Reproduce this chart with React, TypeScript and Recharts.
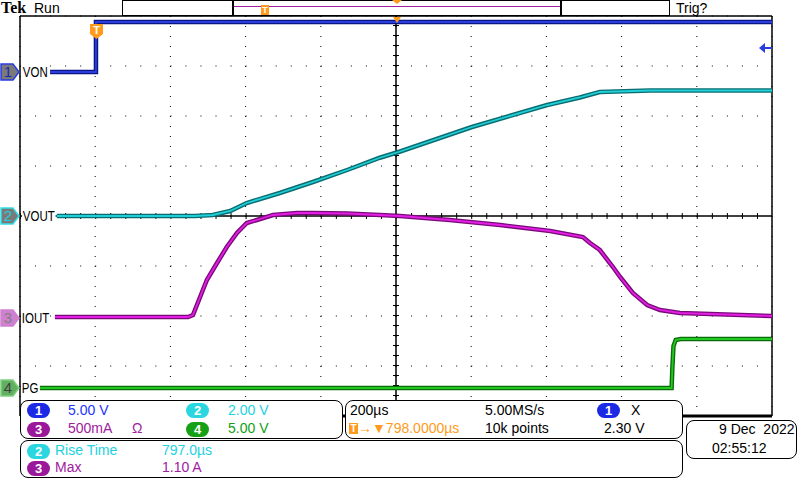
import React from "react"
import { LineChart, Line, XAxis, YAxis, CartesianGrid, ReferenceLine } from "recharts"

// time in µs relative to trigger, 200 µs/div, center at 798 µs
const divTimes = [-202, -2, 198, 398, 598, 798, 998, 1198, 1398, 1598, 1798]
const divLevels = [-4, -3, -2, -1, 0, 1, 2, 3, 4]

// CH1 VON, 5 V/div
const vonTime = [-122, 0, 0, 1798]
const vonVolts = [0, 0, 5, 5]

// CH2 VOUT, 2 V/div
const voutTime = [-104, 263, 311, 357, 401, 489, 577, 668, 755, 809, 1000, 1200, 1287, 1340, 1474, 1798]
const voutVolts = [0, 0, 0.04, 0.2, 0.52, 0.92, 1.36, 1.84, 2.33, 2.58, 3.56, 4.44, 4.74, 4.96, 5.02, 5.02]

// CH3 IOUT, 500 mA/div
const ioutTime = [-109, 245, 258, 277, 295, 322, 348, 375, 401, 428, 471, 535, 577, 668, 755, 809, 941, 1075, 1208, 1295, 1314, 1340, 1375, 1394, 1428, 1466, 1500, 1553, 1798]
const ioutAmps = [0.01, 0.01, 0.03, 0.21, 0.38, 0.55, 0.71, 0.85, 0.95, 0.98, 1.03, 1.05, 1.05, 1.045, 1.03, 1.02, 0.98, 0.93, 0.87, 0.81, 0.75, 0.68, 0.51, 0.41, 0.25, 0.13, 0.08, 0.05, 0.02]

// CH4 PG, 5 V/div
const pgTime = [-149, 1531, 1533, 1536, 1542, 1555, 1798]
const pgVolts = [0, 0, 2.0, 4.2, 4.8, 4.9, 4.9]

// volts/div and ground offset in divisions
const channels = [
  { name: "VON", time: vonTime, vals: vonVolts, scale: 5, offset: 2.88, light: "#2a3ee0", dark: "#0c1680" },
  { name: "VOUT", time: voutTime, vals: voutVolts, scale: 2, offset: 0, light: "#20d0d8", dark: "#0b6c70" },
  { name: "IOUT", time: ioutTime, vals: ioutAmps, scale: 0.5, offset: -2.04, light: "#e41ee4", dark: "#780a78" },
  { name: "PG", time: pgTime, vals: pgVolts, scale: 5, offset: -3.44, light: "#22c822", dark: "#0c6c0c" },
]

const series = channels.map((c) => ({
  ...c,
  data: c.time.map((t, i) => ({ t, y: c.vals[i] / c.scale + c.offset })),
}))

const FONT = '"Liberation Sans", Arial, sans-serif'

function Marker({ n, top, fill, stroke, color }: { n: string; top: number; fill: string; stroke: string; color: string }) {
  return (
    <svg style={{ position: "absolute", left: 0, top: top - 9 }} width={21} height={18}>
      <path d="M1 1 H13 L19 9 L13 17 H1 Z" fill={fill} stroke={stroke} strokeWidth={1.5} />
      <text x={8} y={14} fontSize={15} fontFamily={FONT} fill={color} textAnchor="middle">{n}</text>
    </svg>
  )
}

function Pill({ n, left, top, bg }: { n: string; left: number; top: number; bg: string }) {
  return (
    <div style={{ position: "absolute", left, top, width: 23, height: 15, borderRadius: 8, background: bg, color: "#fff", fontSize: 13, fontWeight: 700, lineHeight: "15px", textAlign: "center" }}>{n}</div>
  )
}

function Txt({ left, top, color = "#000", size = 13, children }: { left: number; top: number; color?: string; size?: number; children: React.ReactNode }) {
  return <div style={{ position: "absolute", left, top, color, fontSize: size, lineHeight: "15px", whiteSpace: "nowrap" }}>{children}</div>
}

function Label({ left, top, children }: { left: number; top: number; children: React.ReactNode }) {
  return (
    <div style={{ position: "absolute", left, top, fontSize: 14, lineHeight: "16px", background: "#fff", padding: "0 1px", transform: "scaleX(0.82)", transformOrigin: "left center", whiteSpace: "nowrap" }}>{children}</div>
  )
}

const boxStyle = (left: number, top: number, width: number, height: number): React.CSSProperties => ({
  position: "absolute", left, top, width, height, border: "1px solid #000", borderRadius: 8, background: "#fff", boxSizing: "border-box",
})

export default function App() {
  return (
    <div style={{ position: "fixed", left: 0, top: 0, width: 800, height: 480, background: "#fff", overflow: "hidden", fontFamily: FONT }}>
      <LineChart width={800} height={480} margin={{ top: 16, right: 28, bottom: 64, left: 20 }} style={{ position: "absolute", left: 0, top: 0 }}>
        <XAxis dataKey="t" type="number" domain={[-202, 1798]} ticks={divTimes} allowDataOverflow hide />
        <YAxis type="number" domain={[-4, 4]} ticks={divLevels} allowDataOverflow hide />
        <CartesianGrid vertical={false} stroke="#000" strokeDasharray="1 14.04" />
        <CartesianGrid horizontal={false} stroke="#000" strokeDasharray="1 9" />
        <ReferenceLine y={0} stroke="#000" strokeWidth={1.5} />
        <ReferenceLine y={0} stroke="#000" strokeWidth={6} strokeDasharray="1 14.04" />
        <ReferenceLine x={798} stroke="#000" strokeWidth={1.5} />
        <ReferenceLine x={798} stroke="#000" strokeWidth={6} strokeDasharray="1 9" />
        <ReferenceLine x={-202} stroke="#000" strokeWidth={1.5} />
        <ReferenceLine x={1798} stroke="#000" strokeWidth={1.5} />
        <ReferenceLine y={4} stroke="#000" strokeWidth={1.5} />
        <ReferenceLine y={-4} stroke="#000" strokeWidth={3} />
        {series.map((s) => (
          <Line key={s.name + "d"} data={s.data} dataKey="y" type="linear" stroke={s.dark} strokeWidth={4.5} dot={false} isAnimationActive={false} />
        ))}
        {series.map((s) => (
          <Line key={s.name + "l"} data={s.data} dataKey="y" type="linear" stroke={s.light} strokeWidth={1.8} dot={false} isAnimationActive={false} />
        ))}
      </LineChart>

      {/* top bar */}
      <div style={{ position: "absolute", left: 1, top: 0, fontFamily: '"Liberation Serif", serif', fontWeight: 700, fontSize: 16, lineHeight: "16px" }}>Tek</div>
      <Txt left={34} top={1} size={14}>Run</Txt>
      <div style={{ position: "absolute", left: 122, top: 0, width: 548, height: 16, border: "1px solid #000", boxSizing: "border-box" }} />
      <div style={{ position: "absolute", left: 232, top: 0, width: 330, height: 16, borderLeft: "2px solid #000", borderRight: "2px solid #000", boxSizing: "border-box" }} />
      <div style={{ position: "absolute", left: 234, top: 6, width: 326, height: 1, background: "#a020a0" }} />
      <div style={{ position: "absolute", left: 261, top: 5, width: 8, height: 10, background: "#ff9a1a", color: "#fff", fontSize: 9, fontWeight: 700, lineHeight: "10px", textAlign: "center" }}>T</div>
      <svg style={{ position: "absolute", left: 390, top: 0 }} width={14} height={24}>
        <path d="M2 0 H12 L7 4 Z" fill="#ff9a1a" />
        <path d="M3 17 H11 L7 23 Z" fill="#ff9a1a" />
      </svg>
      <Txt left={676} top={1} size={14}>Trig?</Txt>

      {/* trigger marker and level arrow */}
      <svg style={{ position: "absolute", left: 89, top: 23 }} width={16} height={17}>
        <path d="M1 1 H14 V11 L7.5 16 L1 11 Z" fill="#ff9a1a" />
        <text x={7.5} y={11} fontSize={11} fontWeight={700} fill="#fff" textAnchor="middle" fontFamily={FONT}>T</text>
      </svg>
      <svg style={{ position: "absolute", left: 758, top: 42 }} width={14} height={12}>
        <path d="M1 6 L7 1 V11 Z" fill="#2a3ee0" />
        <path d="M6 6 H14" stroke="#2a3ee0" strokeWidth={2} />
      </svg>

      {/* ground markers and labels */}
      <Marker n="1" top={72} fill="#7a7a7a" stroke="#2a3ee0" color="#1a2ab0" />
      <Marker n="2" top={216} fill="#7a7a7a" stroke="#30e0e8" color="#20d0d8" />
      <Marker n="3" top={318} fill="#d080d0" stroke="#d080d0" color="#808080" />
      <Marker n="4" top={388} fill="#60b060" stroke="#80d080" color="#404040" />
      <Label left={22} top={64}>VON</Label>
      <Label left={22} top={208}>VOUT</Label>
      <Label left={21} top={310}>IOUT</Label>
      <Label left={21} top={380}>PG</Label>

      {/* channel settings */}
      <div style={boxStyle(20, 400, 323, 39)} />
      <Pill n="1" left={27} top={403} bg="#1c2ae6" />
      <Txt left={68} top={403} color="#2232ff" size={14}>5.00 V</Txt>
      <Pill n="2" left={186} top={403} bg="#2ad6e0" />
      <Txt left={228} top={403} color="#22d2e0" size={14}>2.00 V</Txt>
      <Pill n="3" left={27} top={422} bg="#9a189a" />
      <Txt left={68} top={421} color="#a020a0" size={14}>500mA</Txt>
      <Txt left={132} top={421} color="#a020a0" size={14}>Ω</Txt>
      <Pill n="4" left={186} top={422} bg="#16a016" />
      <Txt left={228} top={421} color="#12a012" size={14}>5.00 V</Txt>

      {/* timebase */}
      <div style={boxStyle(345, 400, 338, 39)} />
      <Txt left={350} top={403} size={14}>200µs</Txt>
      <div style={{ position: "absolute", left: 349, top: 423, width: 9, height: 11, background: "#ff9a1a", color: "#fff", fontSize: 10, fontWeight: 700, lineHeight: "11px", textAlign: "center" }}>T</div>
      <Txt left={358} top={421} color="#ff9a1a" size={14}>→▼798.0000µs</Txt>
      <Txt left={485} top={403} size={14}>5.00MS/s</Txt>
      <Txt left={485} top={421} size={14}>10k points</Txt>
      <Pill n="1" left={597} top={403} bg="#1c2ae6" />
      <Txt left={631} top={403} size={14}>X</Txt>
      <Txt left={604} top={421} size={14}>2.30 V</Txt>

      {/* measurements */}
      <div style={boxStyle(20, 440, 663, 38)} />
      <Pill n="2" left={27} top={444} bg="#2ad6e0" />
      <Txt left={55} top={443} color="#22d2e0" size={14}>Rise Time</Txt>
      <Txt left={162} top={443} color="#22d2e0" size={14}>797.0µs</Txt>
      <Pill n="3" left={27} top={461} bg="#9a189a" />
      <Txt left={55} top={460} color="#a020a0" size={14}>Max</Txt>
      <Txt left={162} top={460} color="#a020a0" size={14}>1.10 A</Txt>

      {/* date */}
      <div style={boxStyle(686, 420, 111, 39)} />
      <Txt left={719} top={422} size={14}>9 Dec&nbsp; 2022</Txt>
      <Txt left={712} top={441} size={14}>02:55:12</Txt>
    </div>
  )
}
